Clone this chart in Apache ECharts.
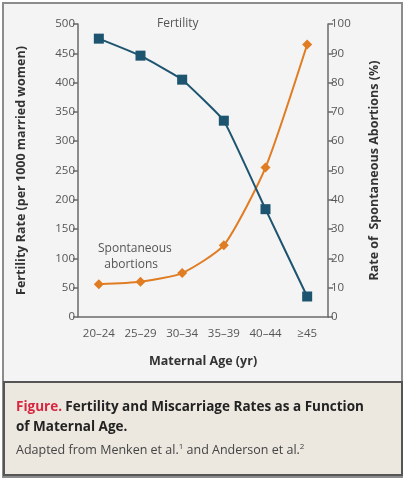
<!DOCTYPE html>
<html><head><meta charset="utf-8">
<script src="https://cdn.jsdelivr.net/npm/echarts@6/dist/echarts.min.js"></script>
<style>html,body{margin:0;padding:0;background:#fff}#c{width:405px;height:480px}</style>
</head><body><div id="c"></div>
<script>
const categories = ['20\u201324','25\u201329','30\u201334','35\u201339','40\u201344','\u226545'];
const fertility = [475, 446, 405, 335, 184, 35];
const spontaneous = [11.2, 12, 15, 24.5, 51, 93];
const leftTicks = {min:0, max:500, interval:50};
const rightTicks = {min:0, max:100, interval:10};

const FONT = '"Open Sans", "Noto Sans", sans-serif';
const chart = echarts.init(document.getElementById('c'), null, {renderer:'canvas'});
const axisGray = '#6a6a6a';
chart.setOption({
  animation:false,
  backgroundColor:'#ffffff',
  graphic:[
    {type:'rect', z:-10, shape:{x:3,y:3,width:399,height:474}, style:{fill:'#f4f4f4', stroke:'#8c8c8c', lineWidth:2}},
    {type:'rect', z:-5, shape:{x:4,y:382,width:398,height:93}, style:{fill:'#ece7df', stroke:'#555', lineWidth:2}},
    {type:'text', left:16, top:400, style:{text:'{r|Figure.} {b|Fertility and Miscarriage Rates as a Function}', rich:{r:{fill:'#d8263f',fontFamily:FONT,fontSize:13.5,fontWeight:'bold'}, b:{fill:'#222',fontFamily:FONT,fontSize:13.5,fontWeight:'bold'}}}},
    {type:'text', left:16, top:420, style:{text:'of Maternal Age.', fill:'#222', font:'bold 13.5px '+FONT}},
    {type:'text', left:16, top:443, style:{text:'Adapted from Menken et al.{s|1} and Anderson et al.{s|2}', fill:'#444', fontFamily:FONT, fontSize:12.5, rich:{s:{fontSize:8, fill:'#444', fontFamily:FONT, verticalAlign:'top', padding:[0,0,6,0]}}}},
    {type:'text', left:157, top:18, style:{text:'Fertility', fill:'#555', font:'12px '+FONT}},
    {type:'text', left:98, top:241, style:{text:'Spontaneous\n  abortions', fill:'#555', font:'12px '+FONT, lineHeight:16}}
  ],
  grid:{left:78, right:77, top:24, bottom:163},
  xAxis:{
    type:'category', data:categories, boundaryGap:true,
    name:'Maternal Age (yr)', nameLocation:'middle', nameGap:38,
    nameTextStyle:{color:'#333', fontFamily:FONT, fontSize:12.5, fontWeight:'bold'},
    axisLine:{lineStyle:{color:axisGray, width:1.5}},
    axisTick:{alignWithLabel:true, length:6, lineStyle:{color:axisGray, width:1.5}},
    axisLabel:{interval:0, color:'#555', fontFamily:FONT, fontSize:11.5, margin:11}
  },
  yAxis:[
    {type:'value', position:'left', min:leftTicks.min, max:leftTicks.max, interval:leftTicks.interval,
     name:'Fertility Rate (per 1000 married women)', nameLocation:'middle', nameGap:50,
     nameTextStyle:{color:'#333', fontFamily:FONT, fontSize:12.5, fontWeight:'bold'},
     axisLine:{show:true, lineStyle:{color:axisGray, width:1.5}},
     axisTick:{show:true, length:5, lineStyle:{color:axisGray, width:1.5}},
     axisLabel:{color:'#555', fontFamily:FONT, fontSize:11.5, margin:3},
     splitLine:{show:false}},
    {type:'value', position:'right', min:rightTicks.min, max:rightTicks.max, interval:rightTicks.interval,
     name:'Rate of  Spontaneous Abortions (%)', nameLocation:'middle', nameGap:40, nameRotate:90,
     nameTextStyle:{color:'#333', fontFamily:FONT, fontSize:12.5, fontWeight:'bold'},
     axisLine:{show:true, lineStyle:{color:axisGray, width:1.5}},
     axisTick:{show:true, length:5, lineStyle:{color:axisGray, width:1.5}},
     axisLabel:{color:'#555', fontFamily:FONT, fontSize:11.5, margin:3},
     splitLine:{show:false}}
  ],
  series:[
    {name:'Spontaneous abortions', type:'line', yAxisIndex:1, data:spontaneous, smooth:0.2,
     symbol:'diamond', symbolSize:10, lineStyle:{color:'#e07c22', width:2}, itemStyle:{color:'#e07c22'}},
    {name:'Fertility', type:'line', yAxisIndex:0, data:fertility, smooth:0.1,
     symbol:'rect', symbolSize:10, lineStyle:{color:'#1d5470', width:2}, itemStyle:{color:'#1d5470'}, z:3}
  ]
});
</script></body></html>
